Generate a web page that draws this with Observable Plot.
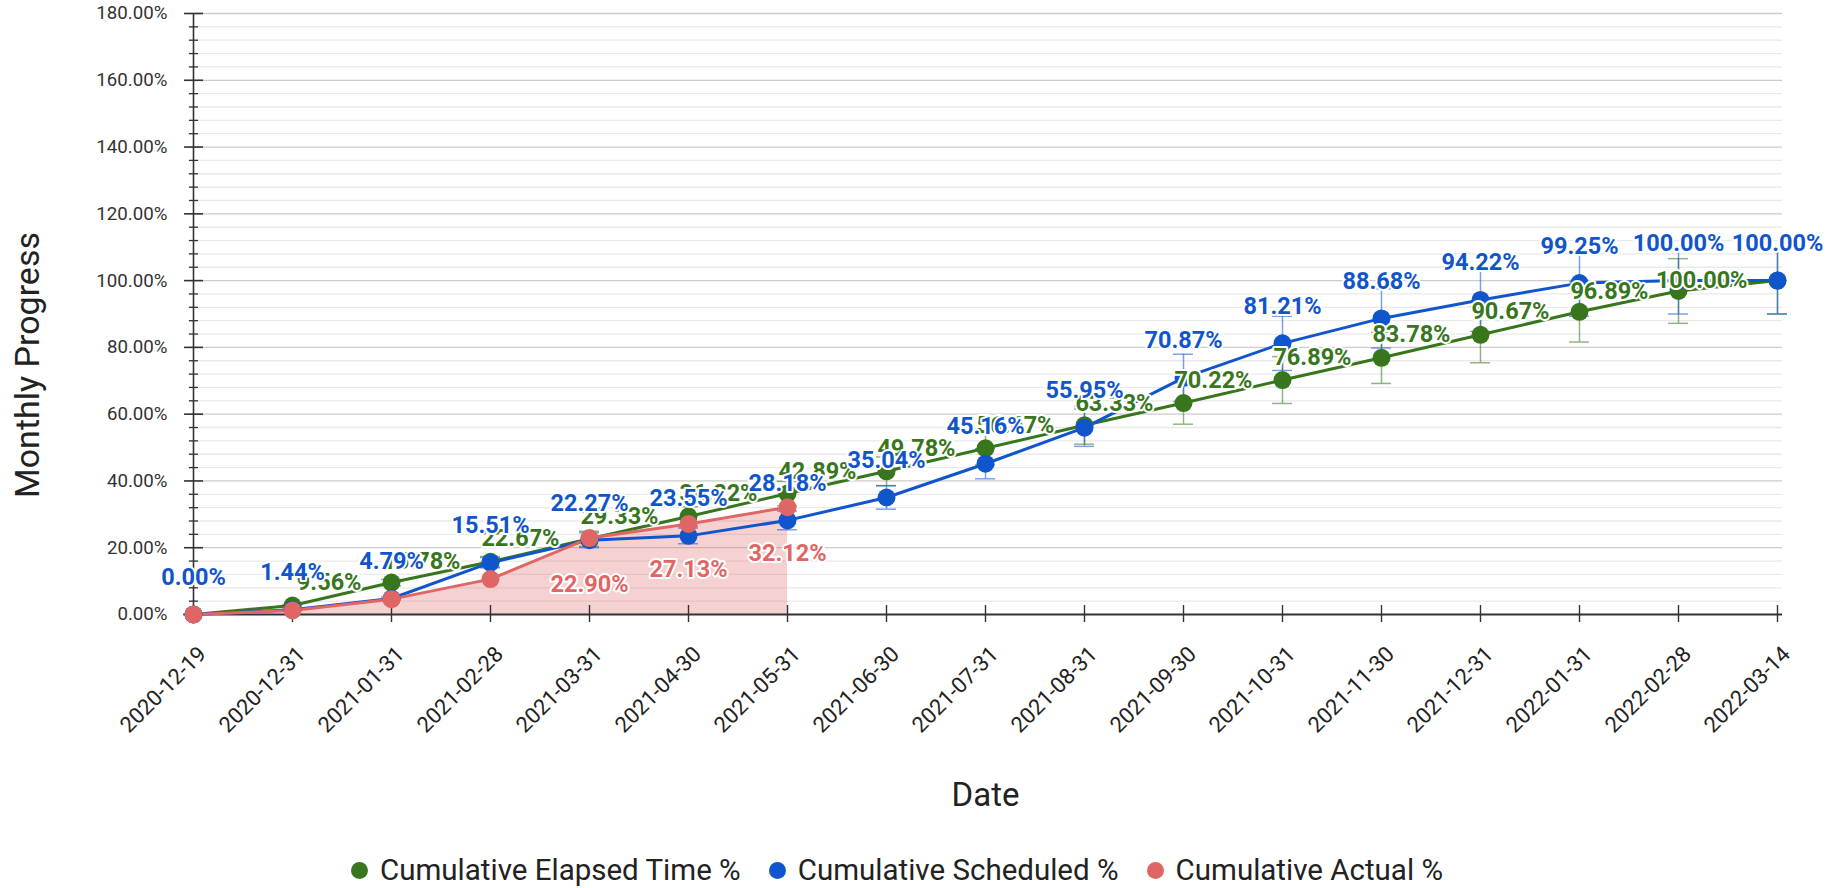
<!DOCTYPE html>
<html>
<head>
<meta charset="utf-8">
<script src="https://cdn.jsdelivr.net/npm/d3@7"></script>
<script src="https://cdn.jsdelivr.net/npm/@observablehq/plot@0.6"></script>
<style>
  html, body { margin: 0; padding: 0; background: #fff; }
  body { width: 1841px; height: 888px; position: relative; overflow: hidden; font-family: Roboto, sans-serif; }
  #chart svg text { paint-order: stroke; }
  #legend { position: absolute; left: 351px; top: 850px; height: 40px; display: flex; align-items: center; font-family: Roboto, sans-serif; font-size: 29.5px; color: #222; white-space: nowrap; }
  .item { display: flex; align-items: center; margin-right: 28px; }
  .sw { width: 17px; height: 17px; border-radius: 50%; margin-right: 12px; }
</style>
</head>
<body>
<div id="chart"></div>
<div id="legend"></div>
<script>
// ---- data ----
const dates = ["2020-12-19","2020-12-31","2021-01-31","2021-02-28","2021-03-31","2021-04-30","2021-05-31","2021-06-30","2021-07-31","2021-08-31","2021-09-30","2021-10-31","2021-11-30","2021-12-31","2022-01-31","2022-02-28","2022-03-14"];
const elapsed = [0, 2.67, 9.56, 15.78, 22.67, 29.33, 36.22, 42.89, 49.78, 56.67, 63.33, 70.22, 76.89, 83.78, 90.67, 96.89, 100.00];
const scheduled = [0, 1.44, 4.79, 15.51, 22.27, 23.55, 28.18, 35.04, 45.16, 55.95, 70.87, 81.21, 88.68, 94.22, 99.25, 100.00, 100.00];
const actual = [0, 1.2, 4.6, 10.6, 22.90, 27.13, 32.12];
const seriesNames = ["Cumulative Elapsed Time %", "Cumulative Scheduled %", "Cumulative Actual %"];
const seriesColors = ["#38761d", "#1155cc", "#e06666"];
const yMajorTicks = [0, 20, 40, 60, 80, 100, 120, 140, 160, 180];
const yMinorStep = 4;
const errorFraction = 0.1;          // error bars: ±10% of value
const elapsedLabelFrom = 2;         // annotations shown from this index
const actualLabelFrom = 4;

// ---- rows ----
const mk = (vals) => vals.map((v, i) => ({date: dates[i], value: v, i}));
const elRows = mk(elapsed), schRows = mk(scheduled), actRows = mk(actual);
const yMinor = d3.range(0, 180 + 0.001, yMinorStep).filter(v => v % 20 !== 0);
const fmt = v => v.toFixed(2) + "%";
const x0 = () => dates[0];

const errorMarks = [elRows, schRows].flatMap((rows, k) => [
  Plot.ruleX(rows, {x: "date", y1: d => d.value * (1 - errorFraction), y2: d => d.value * (1 + errorFraction), stroke: seriesColors[k], strokeOpacity: 0.55, strokeWidth: 1.5}),
  Plot.ruleY(rows, {x1: "date", x2: "date", y: d => d.value * (1 - errorFraction), insetLeft: -10, insetRight: -10, stroke: seriesColors[k], strokeOpacity: 0.55, strokeWidth: 1.5}),
  Plot.ruleY(rows, {x1: "date", x2: "date", y: d => d.value * (1 + errorFraction), insetLeft: -10, insetRight: -10, stroke: seriesColors[k], strokeOpacity: 0.55, strokeWidth: 1.5})
]);

const labelStyle = {fontWeight: "bold", fontSize: 23.5, stroke: "white", strokeWidth: 4, paintOrder: "stroke"};

const chart = Plot.plot({
  width: 1841,
  height: 850,
  marginLeft: 188,
  marginRight: 59,
  marginTop: 13,
  marginBottom: 236,
  style: {fontFamily: "Roboto, sans-serif", background: "white", overflow: "visible"},
  x: {type: "point", domain: dates, padding: 0},
  y: {domain: [0, 180]},
  marks: [
    // grid
    Plot.ruleY(yMinor, {stroke: "#e9e9e9", strokeWidth: 1.3}),
    Plot.ruleY(yMajorTicks.filter(v => v > 0), {stroke: "#cccccc", strokeWidth: 1.3}),
    // actual area
    Plot.areaY(actRows, {x: "date", y: "value", fill: seriesColors[2], fillOpacity: 0.3}),
    // error bars
    ...errorMarks,
    // axes lines & ticks
    Plot.ruleY([0], {stroke: "#333", strokeWidth: 2}),
    Plot.ruleX([dates[0]], {y1: () => 0, y2: () => 180, stroke: "#333", strokeWidth: 1.6}),
    Plot.ruleY(yMajorTicks, {x1: x0, x2: x0, insetLeft: -9, insetRight: -10, stroke: "#333", strokeWidth: 1.6}),
    Plot.ruleY(yMinor, {x1: x0, x2: x0, insetLeft: -4, insetRight: -5, stroke: "#333", strokeWidth: 1.3}),
    Plot.ruleX(dates, {y1: () => 0, y2: () => 0, insetTop: -9, insetBottom: -8, stroke: "#333", strokeWidth: 1.4}),
    Plot.axisY({ticks: yMajorTicks, tickSize: 0, tickPadding: 21, tickFormat: fmt, fontSize: 18.7, color: "#333", label: null}),
    Plot.axisX({tickSize: 0, tickRotate: -45, tickPadding: 36, dx: 9, fontSize: 22, color: "#222", label: null}),
    // titles
    Plot.text(["Monthly Progress"], {frameAnchor: "left", textAnchor: "middle", lineAnchor: "middle", dx: -160, dy: 51, rotate: -90, fontSize: 34, fill: "#222"}),
    Plot.text(["Date"], {frameAnchor: "bottom", lineAnchor: "middle", dy: 181, fontSize: 33, fill: "#222"}),
    // lines
    Plot.line(elRows, {x: "date", y: "value", stroke: seriesColors[0], strokeWidth: 3}),
    Plot.line(schRows, {x: "date", y: "value", stroke: seriesColors[1], strokeWidth: 3}),
    Plot.line(actRows, {x: "date", y: "value", stroke: seriesColors[2], strokeWidth: 3}),
    // points
    Plot.dot(elRows, {x: "date", y: "value", r: 9, fill: seriesColors[0]}),
    Plot.dot(schRows, {x: "date", y: "value", r: 9, fill: seriesColors[1]}),
    Plot.dot(actRows, {x: "date", y: "value", r: 9, fill: seriesColors[2]}),
    // annotations
    Plot.text(elRows.filter(d => d.i >= elapsedLabelFrom), {x: "date", y: "value", text: d => fmt(d.value), fill: seriesColors[0], textAnchor: "end", dx: -30, ...labelStyle}),
    Plot.text(schRows, {x: "date", y: "value", text: d => fmt(d.value), fill: seriesColors[1], dy: -37, ...labelStyle}),
    Plot.text(actRows.filter(d => d.i >= actualLabelFrom), {x: "date", y: "value", text: d => fmt(d.value), fill: seriesColors[2], dy: 46, ...labelStyle})
  ]
});
document.getElementById("chart").appendChild(chart);

// legend
const legend = document.getElementById("legend");
seriesNames.forEach((name, k) => {
  const item = document.createElement("div");
  item.className = "item";
  const sw = document.createElement("span");
  sw.className = "sw";
  sw.style.background = seriesColors[k];
  const t = document.createElement("span");
  t.textContent = name;
  item.appendChild(sw); item.appendChild(t);
  legend.appendChild(item);
});
</script>
</body>
</html>
